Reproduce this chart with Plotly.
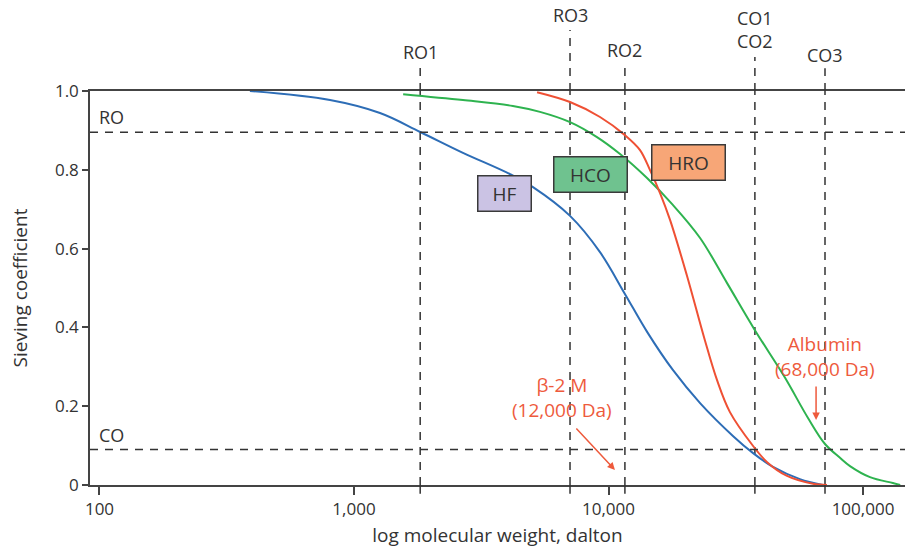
import math
import plotly.graph_objects as go

# ---------------- data ----------------
hf_mw = [390, 805, 1265, 1820, 2680, 4100, 5050, 7060, 9260, 11600, 14200, 17900, 22900, 30900, 37000, 44300, 56500, 69600]
hf_sc = [1.0, 0.977, 0.944, 0.896, 0.843, 0.789, 0.756, 0.683, 0.591, 0.485, 0.388, 0.292, 0.208, 0.124, 0.081, 0.046, 0.015, 0.0]

hco_mw = [1560, 2680, 4210, 5380, 7060, 9010, 11100, 14170, 17900, 22900, 29200, 37600, 49200, 60800, 70900, 81200, 88900, 106500, 131000, 140000]
hco_sc = [0.992, 0.977, 0.962, 0.947, 0.921, 0.883, 0.840, 0.779, 0.711, 0.627, 0.513, 0.393, 0.274, 0.170, 0.104, 0.069, 0.048, 0.020, 0.005, 0.0]

hro_mw = [5240, 7060, 9260, 11600, 13300, 14560, 15940, 17450, 20300, 23900, 26700, 30000, 37000, 42000, 50300, 63600, 72200]
hro_sc = [0.997, 0.972, 0.934, 0.888, 0.850, 0.799, 0.741, 0.673, 0.533, 0.368, 0.266, 0.185, 0.099, 0.058, 0.023, 0.003, 0.0]

cutoff_names = ["RO1", "RO3", "RO2", "CO1<br>CO2", "CO3"]
cutoff_mw = [1820, 7060, 11600, 37600, 70900]
level_names = ["RO", "CO"]
level_sc = [0.895, 0.09]

x_tick_vals = [100, 1000, 10000, 100000]
x_tick_text = ["100", "1,000", "10,000", "100,000"]
y_tick_vals = [0, 0.2, 0.4, 0.6, 0.8, 1.0]
y_tick_text = ["0", "0.2", "0.4", "0.6", "0.8", "1.0"]

membranes = ["HF", "HCO", "HRO"]
membrane_pos_mw = [3920, 8460, 20530]
membrane_pos_sc = [0.739, 0.787, 0.818]

b2m_label_mw, b2m_arrow_mw = 6570, 10600
alb_label_mw, alb_arrow_mw = 70900, 65400

# ---------------- styles ----------------
BLUE = "#2d6db6"
GREEN = "#2eb34f"
RED = "#ef5034"
TXT = "#333333"
ANN = "#ee5a3c"
FONT = "Open Sans, Noto Sans, sans-serif"
DASH = dict(color=TXT, width=1.5, dash="8px,7px")

fig = go.Figure()

line_tops = [1.066, 1.155, 1.066, 1.086, 1.058]
label_ys = [1.099, 1.193, 1.104, 1.155, 1.091]
for mw in cutoff_mw:
    fig.add_trace(go.Scatter(x=[mw, mw], y=[0, 1], mode="lines",
                             line=DASH, showlegend=False, hoverinfo="skip"))

for xs, ys, c, n in [(hf_mw, hf_sc, BLUE, "HF"), (hco_mw, hco_sc, GREEN, "HCO"), (hro_mw, hro_sc, RED, "HRO")]:
    fig.add_trace(go.Scatter(x=xs, y=ys, mode="lines", name=n,
                             line=dict(color=c, width=2, shape="spline", smoothing=1.0),
                             showlegend=False, hoverinfo="skip"))

shapes = []
annotations = []
# parts of the cut-off lines that run outside the plotting area
for mw, top in zip(cutoff_mw, line_tops):
    shapes.append(dict(type="line", xref="x", yref="paper", x0=mw, x1=mw, y0=1.0, y1=top,
                       line=DASH, layer="above"))
    shapes.append(dict(type="line", xref="x", yref="paper", x0=mw, x1=mw, y0=-0.022, y1=0,
                       line=dict(color=TXT, width=1.5), layer="above"))

for name, mw, ly in zip(cutoff_names, cutoff_mw, label_ys):
    annotations.append(dict(x=math.log10(mw), y=ly, xref="x", yref="paper", text=name, showarrow=False,
                            font=dict(size=18, color=TXT, family=FONT), align="center",
                            xanchor="center", yanchor="middle"))

for name, sc in zip(level_names, level_sc):
    shapes.append(dict(type="line", xref="paper", yref="y", x0=0, x1=1, y0=sc, y1=sc,
                       line=DASH, layer="above"))
    annotations.append(dict(x=0.008, y=sc + 0.038, xref="paper", yref="y", text=name, showarrow=False,
                            font=dict(size=18, color=TXT, family=FONT), xanchor="left", yanchor="middle"))

box_fill = ["#cbc3e4", "#6fc28f", "#f7a677"]
box_w = [52, 72, 72]
for name, mw, sc, fc, w in zip(membranes, membrane_pos_mw, membrane_pos_sc, box_fill, box_w):
    annotations.append(dict(x=math.log10(mw), y=sc, xref="x", yref="y", text=name, showarrow=False,
                            font=dict(size=19, color=TXT, family=FONT), bgcolor=fc,
                            bordercolor="#3a3a3a", borderwidth=1.5, borderpad=0,
                            width=w, height=34, xanchor="center", yanchor="middle"))

# beta-2 microglobulin
annotations.append(dict(x=math.log10(b2m_label_mw), y=0.222, xref="x", yref="y",
                        text="β-2 M<br>(12,000 Da)", showarrow=False,
                        font=dict(size=19, color=ANN, family=FONT), align="center"))
annotations.append(dict(x=math.log10(b2m_arrow_mw), y=0.038, xref="x", yref="y", text="",
                        showarrow=True, arrowhead=2, arrowsize=1, arrowwidth=1.5, arrowcolor=ANN,
                        ax=-40, ay=-43))
# albumin
annotations.append(dict(x=math.log10(alb_label_mw), y=0.325, xref="x", yref="y",
                        text="Albumin<br>(68,000 Da)", showarrow=False,
                        font=dict(size=19, color=ANN, family=FONT), align="center"))
annotations.append(dict(x=math.log10(alb_arrow_mw), y=0.165, xref="x", yref="y", text="",
                        showarrow=True, arrowhead=2, arrowsize=1, arrowwidth=1.5, arrowcolor=ANN,
                        ax=0, ay=-35))

fig.update_layout(
    width=905, height=550,
    margin=dict(l=90, r=0, t=91, b=65),
    paper_bgcolor="white", plot_bgcolor="white",
    font=dict(family=FONT, color=TXT, size=17),
    shapes=shapes, annotations=annotations,
)
fig.update_xaxes(type="log", range=[1.9627, 5.165], tickvals=x_tick_vals, ticktext=x_tick_text,
                 showgrid=False, zeroline=False, showline=True, linecolor="#444", linewidth=1.5,
                 mirror=True, ticks="outside", ticklen=8, tickwidth=1.5, tickcolor="#444",
                 tickfont=dict(size=17, color=TXT),
                 title=dict(text="log molecular weight, dalton", font=dict(size=19, color=TXT), standoff=10))
fig.update_yaxes(range=[0, 1.0], tickvals=y_tick_vals, ticktext=y_tick_text,
                 showgrid=False, zeroline=False, showline=True, linecolor="#444", linewidth=1.5,
                 ticks="outside", ticklen=6, tickwidth=1.5, tickcolor="#444",
                 tickfont=dict(size=17, color=TXT),
                 title=dict(text="Sieving coefficient", font=dict(size=19, color=TXT), standoff=22))

fig.write_html("out.html")
